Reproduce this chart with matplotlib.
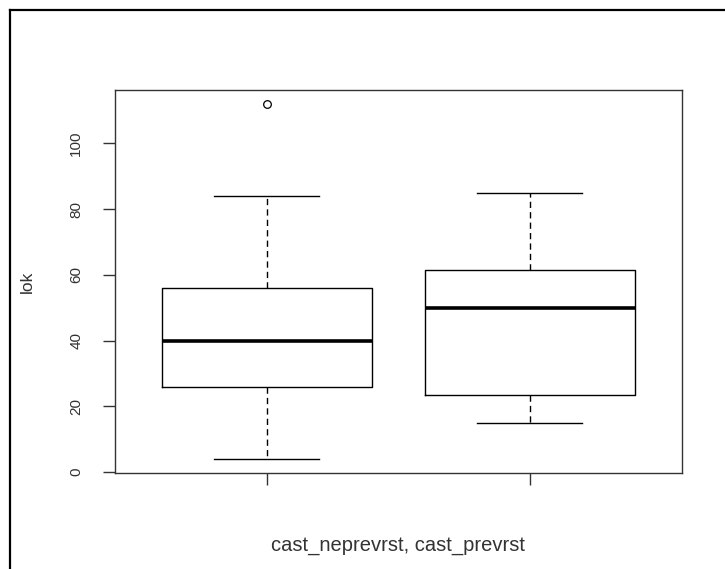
import matplotlib
matplotlib.use("Agg")
import matplotlib.pyplot as plt
from matplotlib.lines import Line2D

plt.rcParams["font.family"] = ["Liberation Sans", "DejaVu Sans"]

# Summary statistics of the two groups
groups = ["cast_neprevrst", "cast_prevrst"]
whisker_low = [4, 15]
q1 = [26, 23.5]
median = [40, 50]
q3 = [56, 61.5]
whisker_high = [84, 85]
outliers = [[112], []]
y_ticks = [0, 20, 40, 60, 80, 100]

stats = []
for i, name in enumerate(groups):
    stats.append(dict(label=name, whislo=whisker_low[i], q1=q1[i], med=median[i],
                      q3=q3[i], whishi=whisker_high[i], fliers=outliers[i]))

fig = plt.figure(figsize=(7.25, 5.69), dpi=100)
ax = fig.add_axes([0.158, 0.1682, 0.7827, 0.6745])

ax.bxp(stats, positions=[1, 2], widths=0.8, patch_artist=False,
       boxprops=dict(color="black", linewidth=1.0),
       medianprops=dict(color="black", linewidth=2.6, solid_capstyle="butt"),
       whiskerprops=dict(color="black", linewidth=1.0, linestyle=(0, (4.5, 3))),
       capprops=dict(color="black", linewidth=1.0),
       capwidths=0.4,
       flierprops=dict(marker="o", markersize=5.5, markerfacecolor="none",
                       markeredgecolor="black", markeredgewidth=0.9))

ax.set_xlim(0.42, 2.58)
ax.set_ylim(-0.32, 116.32)
ax.set_yticks(y_ticks)
ax.set_yticklabels([str(v) for v in y_ticks], rotation=90, va="center",
                   fontsize=11, color="#333333")
ax.set_xticks([1, 2])
ax.set_xticklabels(["", ""])
ax.tick_params(axis="both", direction="out", length=8.5, width=1.0, color="#333333")
ax.tick_params(axis="y", pad=14)
for s in ax.spines.values():
    s.set_color("#333333")
    s.set_linewidth(1.0)

ax.set_ylabel("lok", fontsize=12.5, color="#333333", va="center")
ax.yaxis.set_label_coords(-0.154, 0.5)
ax.set_xlabel(", ".join(groups), fontsize=14.5, color="#333333", va="center")
ax.xaxis.set_label_coords(0.5, -0.187)

# outer window frame along the top and left edges
fig.add_artist(Line2D([10 / 725, 1.0], [1 - 10 / 569, 1 - 10 / 569],
                      color="black", linewidth=1.6, transform=fig.transFigure))
fig.add_artist(Line2D([10 / 725, 10 / 725], [0.0, 1 - 10 / 569],
                      color="black", linewidth=1.6, transform=fig.transFigure))

fig.savefig("out.png", dpi=100)
